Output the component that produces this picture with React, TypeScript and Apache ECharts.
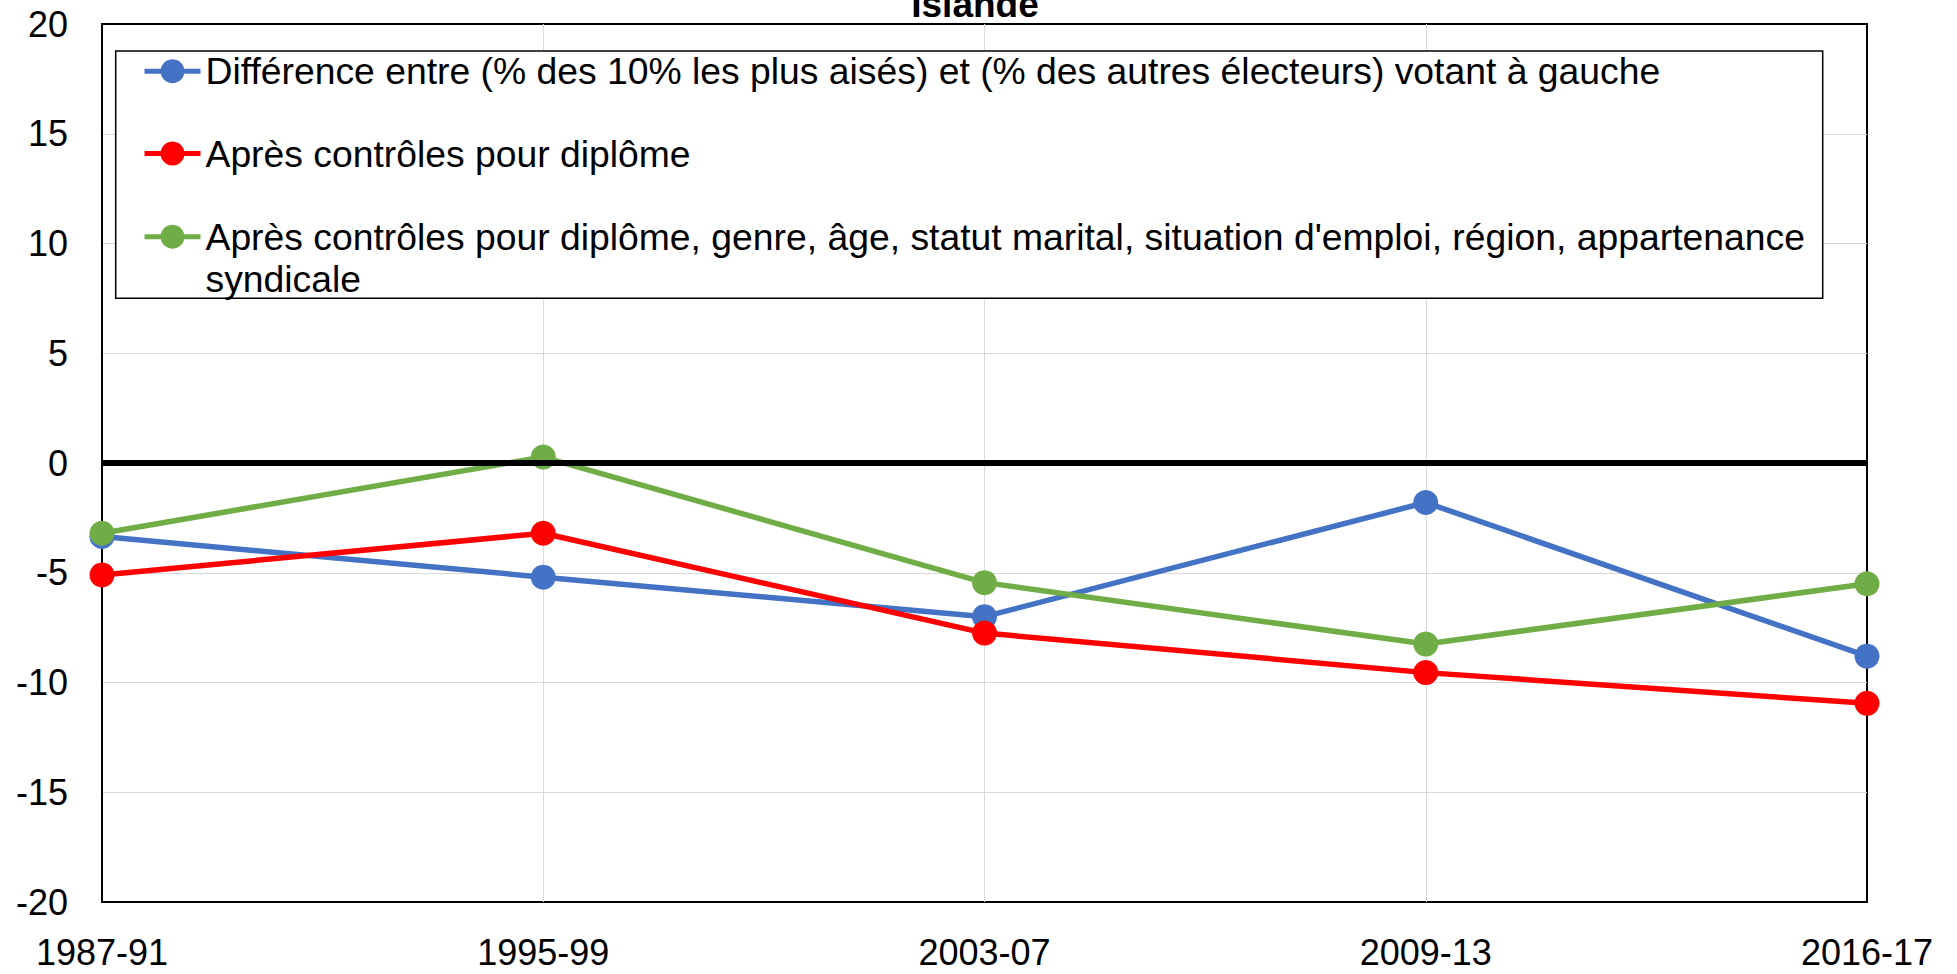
import React, { useEffect, useRef } from "react";
import * as echarts from "echarts";

const categories = ["1987-91", "1995-99", "2003-07", "2009-13", "2016-17"];
const seriesNames = [
  "Différence entre (% des 10% les plus aisés) et (% des autres électeurs) votant à gauche",
  "Après contrôles pour diplôme",
  "Après contrôles pour diplôme, genre, âge, statut marital, situation d'emploi, région, appartenance syndicale",
];
const blueValues = [-3.35, -5.2, -7.0, -1.8, -8.8];
const redValues = [-5.1, -3.2, -7.75, -9.55, -10.95];
const greenValues = [-3.2, 0.27, -5.45, -8.25, -5.5];
const colors = ["#4472C4", "#FF0000", "#70AD47"];
const title = "Islande";

const FONT = '"Liberation Sans", Arial, sans-serif';

export default function App() {
  const ref = useRef<HTMLDivElement>(null);
  useEffect(() => {
    document.body.style.margin = "0";
    const chart = echarts.init(ref.current!, null, { renderer: "svg" });
    const values = [blueValues, redValues, greenValues];
    const legendText = {
      fontSize: 37.3,
      fontFamily: FONT,
      color: "#000",
      lineHeight: 42,
    };
    const legendBase = {
      orient: "horizontal",
      left: 142,
      padding: 0,
      itemWidth: 56,
      itemHeight: 30,
      itemGap: 0,
      selectedMode: false,
      textStyle: legendText,
      lineStyle: { width: 5 },
    };
    chart.setOption({
      animation: false,
      backgroundColor: "#fff",
      grid: {
        left: 102,
        right: 90,
        top: 24,
        bottom: 72,
        show: true,
        borderColor: "#000",
        borderWidth: 2,
        backgroundColor: "transparent",
      },
      graphic: [
        {
          type: "text",
          x: 975,
          y: 4,
          z: 10,
          style: {
            text: title,
            font: `bold 37px ${FONT}`,
            fill: "#000",
            align: "center",
            verticalAlign: "middle",
          },
        },
        {
          type: "rect",
          z: 3,
          shape: { x: 115.7, y: 51, width: 1707, height: 247.3 },
          style: { fill: "#fff", stroke: "#000", lineWidth: 1.5 },
        },
      ],
      legend: [
        { ...legendBase, top: 50.2, data: [seriesNames[0]] },
        { ...legendBase, top: 132.5, data: [seriesNames[1]] },
        {
          ...legendBase,
          top: 173.7,
          data: [seriesNames[2]],
          formatter: () =>
            "\nAprès contrôles pour diplôme, genre, âge, statut marital, situation d'emploi, région, appartenance\nsyndicale",
        },
      ],
      xAxis: {
        type: "category",
        data: categories,
        boundaryGap: false,
        axisLine: { show: true, lineStyle: { color: "#000", width: 2 } },
        axisTick: { show: false },
        axisLabel: {
          fontSize: 36,
          fontFamily: FONT,
          color: "#000",
          lineHeight: 30,
          margin: 35,
        },
        splitLine: {
          show: true,
          showMinLine: false,
          showMaxLine: false,
          lineStyle: { color: "#d9d9d9", width: 1 },
        },
      },
      yAxis: {
        type: "value",
        min: -20,
        max: 20,
        interval: 5,
        axisLine: { show: true, lineStyle: { color: "#000", width: 2 } },
        axisTick: { show: false },
        axisLabel: {
          fontSize: 36,
          fontFamily: FONT,
          color: "#000",
          margin: 34,
        },
        splitLine: {
          show: true,
          showMinLine: false,
          showMaxLine: false,
          lineStyle: { color: "#d9d9d9", width: 1 },
        },
      },
      series: [
        {
          type: "line",
          name: "zero",
          data: [],
          silent: true,
          z: 1,
          markLine: {
            silent: true,
            symbol: "none",
            label: { show: false },
            lineStyle: { color: "#000", width: 6, type: "solid" },
            data: [{ yAxis: 0 }],
          },
        },
        ...seriesNames.map((name, i) => ({
          type: "line",
          name,
          data: values[i],
          z: 2 + i,
          color: colors[i],
          symbol: "circle",
          symbolSize: 25,
          showSymbol: true,
          lineStyle: { color: colors[i], width: 5.5 },
          itemStyle: { color: colors[i] },
        })),
      ],
    });
    return () => chart.dispose();
  }, []);
  return (
    <div
      ref={ref}
      style={{ position: "absolute", left: 0, top: 0, width: 1957, height: 974 }}
    />
  );
}
